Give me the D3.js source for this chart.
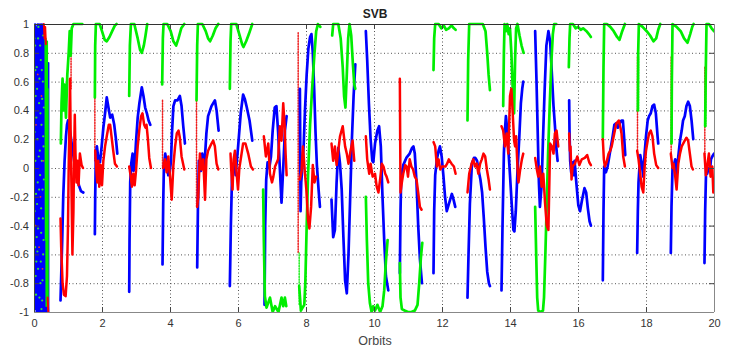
<!DOCTYPE html>
<html>
<head>
<meta charset="utf-8">
<script src="https://cdn.jsdelivr.net/npm/d3@7"></script>
<style>
  body { margin: 0; background: #fff; }
  svg { display: block; font-family: "Liberation Sans", Arial, sans-serif; }
</style>
</head>
<body>
<div id="chart"></div>
<script>
// tick values
const xTicks = [0, 2, 4, 6, 8, 10, 12, 14, 16, 18, 20];
const yTicks = [-1, -0.8, -0.6, -0.4, -0.2, 0, 0.2, 0.4, 0.6, 0.8, 1];

// start of the run: dense noise (orbit, value)
const blueNoise = [[0.0,1],[0.01,-1],[0.02,0.95],[0.03,-0.98],[0.04,1],[0.05,-0.9],[0.06,0.98],[0.07,-1],
  [0.08,0.9],[0.09,-0.95],[0.1,1],[0.11,-1],[0.12,0.97],[0.13,-0.92],[0.14,1],[0.15,-1],[0.16,0.94],
  [0.17,-0.97],[0.18,1],[0.19,-1],[0.2,0.96],[0.21,-0.94],[0.22,1],[0.23,-1],[0.24,0.92],[0.25,-0.98],
  [0.26,1],[0.27,-1],[0.28,0.95],[0.29,-0.96],[0.3,0.98],[0.31,-1],[0.32,0.9],[0.33,-0.97],[0.34,0.85],
  [0.35,-1],[0.36,0.8],[0.37,-1],[0.38,0.75],[0.4,-0.98],[0.41,0.72],[0.42,-1],[0.43,0.73],[0.43,-1]];
const greenNoise = [[0.33,0.93],[0.34,-0.5],[0.35,0.9],[0.36,-0.96],[0.37,0.7],[0.38,-0.6],[0.39,0.88],
  [0.4,-0.9],[0.41,0.55],[0.41,-0.98]];
const greenDots = [[0.03,0.85],[0.08,0.7],[0.12,0.9],[0.2,0.75],[0.26,0.6],[0.05,0.5],[0.15,0.45],[0.22,0.3],
  [0.1,0.2],[0.28,0.15],[0.04,0.05],[0.18,-0.05],[0.25,-0.15],[0.09,-0.25],[0.14,-0.35],[0.21,-0.45],
  [0.03,-0.55],[0.27,-0.6],[0.12,-0.7],[0.19,-0.8],[0.06,-0.88],[0.24,-0.92],[0.16,0.62],[0.07,0.35],
  [0.29,0.42],[0.11,-0.1],[0.23,0.05],[0.02,-0.3],[0.17,0.12],[0.26,-0.35],[0.08,-0.48],[0.2,-0.65],
  [0.13,0.98],[0.27,0.92],[0.05,-0.75],[0.22,-0.98],[0.09,0.55],[0.18,0.85],[0.24,0.48],[0.02,0.25],
  [0.14,0.08],[0.29,-0.08],[0.06,-0.18],[0.21,-0.28],[0.1,-0.58],[0.25,-0.78],[0.16,-0.9],[0.04,0.68],
  [0.19,0.38],[0.27,0.22],[0.12,-0.42],[0.07,-0.65],[0.23,0.68],[0.15,-0.15],[0.28,-0.5],[0.01,0.9]];
const redDots = [[0.06,0.3],[0.19,-0.2],[0.11,0.65],[0.25,-0.7],[0.15,-0.55],[0.04,-0.4],[0.22,0.5],[0.28,0.05]];
const redNoise = [[[0.29,1.0],[0.31,0.9],[0.33,0.98],[0.35,0.86]], [[0.4,-0.9],[0.42,-1.0]]];

// blue series, one array per pass
const blueSegs = [
  [[0.78,-0.92],[0.8,-0.75],[0.83,-0.5],[0.86,-0.2],[0.9,0.05],[0.94,0.22],[0.97,0.3],[1.0,0.33],[1.04,0.28],[1.08,0.22],[1.12,0.15],[1.18,0.05],[1.25,-0.05],[1.32,-0.12],[1.38,-0.16],[1.45,-0.17]],
  [[1.79,-0.46],[1.8,-0.2],[1.82,0.1],[1.85,0.15],[1.9,0.05],[1.94,0.04],[1.99,0.15],[2.04,0.28],[2.09,0.38],[2.14,0.49],[2.19,0.42],[2.24,0.35],[2.3,0.37],[2.36,0.3],[2.41,0.2],[2.45,0.1]],
  [[2.8,-0.86],[2.81,-0.5],[2.83,-0.1],[2.86,0.03],[2.9,0.1],[2.93,-0.02],[2.97,0.05],[3.0,0.18],[3.05,0.35],[3.1,0.45],[3.17,0.56],[3.22,0.5],[3.27,0.42],[3.32,0.38],[3.37,0.33],[3.42,0.3]],
  [[3.78,-0.67],[3.8,-0.25],[3.82,0.0],[3.86,0.1],[3.9,0.04],[3.95,-0.05],[3.99,-0.03],[4.03,0.05],[4.06,0.25],[4.1,0.43],[4.15,0.47],[4.22,0.47],[4.29,0.5],[4.34,0.43],[4.39,0.29],[4.44,0.17]],
  [[4.8,-0.69],[4.82,-0.3],[4.85,0.05],[4.91,-0.02],[4.95,0.1],[5.0,-0.01],[5.04,0.12],[5.07,0.24],[5.12,0.36],[5.22,0.43],[5.32,0.47],[5.37,0.4],[5.43,0.26]],
  [[5.76,-0.82],[5.79,-0.4],[5.83,0.0],[5.89,0.04],[5.93,-0.05],[6.0,0.14],[6.08,0.38],[6.15,0.51],[6.2,0.48],[6.25,0.43],[6.34,0.33],[6.42,0.19]],
  [[6.78,-0.95],[6.8,-0.4],[6.83,-0.08],[6.87,0.04],[6.92,0.0],[6.97,0.08],[7.02,0.26],[7.08,0.42],[7.13,0.43],[7.18,0.25],[7.23,0.0],[7.28,-0.24],[7.33,0.0],[7.38,0.26],[7.43,0.36]],
  [[7.82,0.55],[7.83,0.2],[7.84,-0.3],[7.86,-0.1],[7.89,0.0],[7.93,0.15],[7.97,0.4],[8.02,0.65],[8.07,0.83],[8.12,0.91],[8.16,0.93],[8.2,0.8],[8.24,0.55],[8.28,0.25],[8.32,0.02],[8.37,-0.15],[8.41,-0.27]],
  [[8.75,-0.22],[8.8,-0.48],[8.85,-0.43],[8.9,-0.1],[8.95,0.14],[9.0,0.03],[9.05,-0.15],[9.1,-0.48],[9.15,-0.78],[9.2,-0.87],[9.25,-0.6],[9.3,-0.2],[9.35,0.2],[9.4,0.5],[9.45,0.72]],
  [[9.76,0.95],[9.8,0.75],[9.85,0.45],[9.9,0.2],[9.95,0.05],[9.98,0.04],[10.03,0.17],[10.1,0.26],[10.15,0.29],[10.2,0.15],[10.25,-0.2],[10.3,-0.5],[10.35,-0.75],[10.42,-0.85]],
  [[10.76,-0.73],[10.78,-0.3],[10.8,-0.06],[10.86,0.02],[10.95,0.07],[11.05,0.1],[11.12,0.14],[11.16,0.15],[11.2,0.1],[11.25,-0.1],[11.3,-0.4],[11.35,-0.63],[11.41,-0.8]],
  [[11.75,-0.73],[11.77,-0.3],[11.8,-0.05],[11.85,0.06],[11.9,0.12],[11.94,0.15],[11.99,0.08],[12.04,-0.05],[12.09,-0.2],[12.14,-0.3],[12.19,-0.26],[12.24,-0.22],[12.29,-0.18],[12.34,-0.22],[12.39,-0.27]],
  [[12.75,-0.9],[12.78,-0.6],[12.82,-0.25],[12.88,0.03],[12.94,0.07],[12.98,0.07],[13.03,0.05],[13.08,-0.02],[13.13,-0.08],[13.18,-0.17],[13.23,-0.35],[13.28,-0.55],[13.33,-0.72],[13.38,-0.8],[13.41,-0.82]],
  [[13.75,-0.85],[13.78,-0.4],[13.82,0.1],[13.85,0.26],[13.88,0.36],[13.92,0.26],[13.96,0.1],[14.0,-0.05],[14.05,-0.25],[14.1,-0.43],[14.13,-0.44],[14.17,-0.3],[14.22,-0.02],[14.27,0.2],[14.32,0.45],[14.36,0.55],[14.39,0.6]],
  [[14.74,0.95],[14.78,0.6],[14.82,0.2],[14.85,-0.1],[14.88,-0.27],[14.93,-0.12],[14.97,0.2],[15.02,0.55],[15.07,0.85],[15.13,0.95],[15.18,0.88],[15.23,0.66],[15.28,0.43],[15.32,0.3],[15.37,0.12],[15.4,0.05]],
  [[15.74,0.47],[15.75,0.26],[15.77,0.05],[15.8,-0.03],[15.84,0.04],[15.87,-0.05],[15.9,0.05],[15.95,-0.1],[16.01,-0.26],[16.06,-0.3],[16.12,-0.22],[16.19,-0.14],[16.24,-0.17],[16.29,-0.28],[16.34,-0.37],[16.38,-0.4]],
  [[16.73,-0.78],[16.75,-0.3],[16.77,0.01],[16.82,-0.03],[16.87,0.01],[16.92,0.08],[16.97,0.15],[17.02,0.22],[17.07,0.3],[17.12,0.31],[17.17,0.28],[17.22,0.31],[17.28,0.33],[17.32,0.33],[17.36,0.2],[17.39,0.09]],
  [[17.74,-0.59],[17.76,-0.3],[17.78,-0.1],[17.83,0.09],[17.87,0.04],[17.92,-0.06],[17.96,0.1],[18.0,0.22],[18.05,0.33],[18.09,0.36],[18.14,0.38],[18.19,0.43],[18.24,0.44],[18.29,0.38],[18.34,0.22],[18.36,0.17]],
  [[18.73,-0.59],[18.75,-0.27],[18.78,0.0],[18.81,0.01],[18.86,0.06],[18.9,-0.04],[18.95,0.08],[19.0,0.19],[19.05,0.26],[19.09,0.33],[19.14,0.36],[19.19,0.43],[19.24,0.46],[19.29,0.43],[19.34,0.33],[19.39,0.2]],
  [[19.72,-0.66],[19.74,-0.3],[19.77,0.01],[19.8,-0.04],[19.84,0.0],[19.88,-0.02],[19.91,0.06],[19.95,0.08],[20.0,0.1]]
];

// green series
const greenSegs = [
  [[0.79,0.17],[0.81,0.45],[0.84,0.62],[0.87,0.4],[0.9,0.58],[0.94,0.35],[0.98,0.65],[1.02,0.8],[1.05,0.95],[1.08,0.78],[1.11,0.97],[1.16,1.0],[1.3,1.0],[1.42,1.0]],
  [[1.79,0.49],[1.8,0.85],[1.82,1.0],[1.93,1.0],[2.0,0.95],[2.08,0.89],[2.14,0.88],[2.22,0.91],[2.3,0.95],[2.38,0.99],[2.43,1.0]],
  [[2.8,0.5],[2.82,0.85],[2.85,1.0],[2.95,1.0],[3.05,0.9],[3.12,0.82],[3.17,0.8],[3.23,0.85],[3.28,0.92],[3.33,1.0]],
  [[3.77,0.58],[3.79,0.9],[3.81,1.0],[3.92,1.0],[4.02,0.95],[4.1,0.88],[4.18,0.85],[4.25,0.9],[4.33,0.97],[4.42,1.0]],
  [[4.78,0.47],[4.8,0.85],[4.82,1.0],[4.95,1.0],[5.05,0.95],[5.12,0.9],[5.18,0.88],[5.26,0.92],[5.34,0.97],[5.42,1.0]],
  [[5.76,0.55],[5.78,0.88],[5.8,1.0],[5.95,1.0],[6.05,0.92],[6.12,0.86],[6.16,0.84],[6.24,0.88],[6.32,0.93],[6.42,1.0]],
  [[6.74,-0.15],[6.76,-0.5],[6.79,-0.89],[6.84,-0.97],[6.94,-0.9],[7.02,-1.0],[7.09,-0.96],[7.19,-1.0],[7.28,-0.9],[7.33,-0.96],[7.38,-0.9],[7.42,-0.96]],
  [[7.8,-0.82],[7.85,-0.99],[7.9,-0.97],[7.95,-0.95],[7.98,-0.8],[8.02,-0.4],[8.06,-0.05],[8.12,0.3],[8.18,0.55],[8.25,0.8],[8.3,0.95],[8.35,1.0],[8.42,0.98]],
  [[8.77,0.92],[8.8,1.0],[8.95,1.0],[9.02,0.9],[9.08,0.7],[9.12,0.5],[9.16,0.42],[9.2,0.65],[9.24,0.9],[9.28,1.0],[9.33,0.92],[9.38,0.72],[9.42,0.58],[9.45,0.55]],
  [[9.76,-0.2],[9.79,-0.5],[9.83,-0.8],[9.88,-0.94],[9.93,-1.0],[9.98,-0.96],[10.03,-0.99],[10.1,-0.95],[10.18,-1.0],[10.25,-0.96],[10.3,-0.85],[10.35,-0.65],[10.4,-0.5]],
  [[10.76,-0.66],[10.78,-0.9],[10.82,-0.98],[10.9,-0.99],[11.0,-1.0],[11.1,-1.0],[11.2,-0.99],[11.28,-0.95],[11.33,-0.8],[11.38,-0.62],[11.42,-0.52]],
  [[11.75,0.68],[11.77,0.9],[11.8,1.0],[11.9,1.0],[11.98,0.97],[12.05,0.99],[12.12,0.96],[12.2,0.97],[12.28,0.99],[12.35,0.97],[12.4,0.96]],
  [[12.75,0.33],[12.77,0.75],[12.8,1.0],[12.9,1.0],[13.05,1.0],[13.2,1.0],[13.28,0.95],[13.33,0.8],[13.37,0.65],[13.41,0.54]],
  [[13.8,0.43],[13.82,0.8],[13.84,1.0],[13.88,0.95],[13.92,1.0],[13.96,0.93],[14.0,0.97],[14.04,0.8],[14.08,0.55],[14.12,0.38],[14.15,0.75],[14.18,0.97],[14.22,1.0],[14.28,0.92],[14.34,0.85],[14.4,0.8]],
  [[14.74,-0.27],[14.77,-0.6],[14.8,-0.9],[14.83,-0.99],[14.9,-1.0],[14.97,-0.99],[15.0,-0.9],[15.04,-0.6],[15.08,-0.25],[15.12,0.1],[15.17,0.45],[15.22,0.75],[15.26,0.93],[15.3,1.0],[15.36,1.0]],
  [[15.73,0.7],[15.75,0.9],[15.77,1.0],[15.85,1.0],[15.93,0.97],[16.0,0.98],[16.08,0.96],[16.15,0.97],[16.25,0.95],[16.32,0.93],[16.38,0.91]],
  [[16.73,0.21],[16.75,0.7],[16.77,1.0],[16.85,1.0],[16.95,0.98],[17.05,0.95],[17.15,0.91],[17.22,0.89],[17.3,0.95],[17.38,1.0]],
  [[17.76,0.4],[17.77,0.8],[17.79,1.0],[17.9,0.98],[18.02,0.95],[18.12,0.92],[18.22,0.88],[18.3,0.9],[18.36,0.96],[18.42,1.0]],
  [[18.75,0.17],[18.76,0.6],[18.78,1.0],[18.9,0.98],[19.02,0.95],[19.12,0.9],[19.22,0.87],[19.3,0.93],[19.36,0.98],[19.4,1.0]],
  [[19.74,0.29],[19.76,0.7],[19.78,1.0],[19.85,1.0],[19.93,0.97],[20.0,0.95]]
];

// red series
const redSegs = [
  [[0.78,-0.35],[0.8,-0.55],[0.84,-0.8],[0.88,-0.88],[0.93,-0.89],[0.97,-0.75],[1.0,-0.4],[1.02,0.0],[1.04,0.3],[1.06,0.62],[1.08,0.2],[1.1,-0.1],[1.13,-0.6],[1.16,-0.3],[1.18,0.1],[1.2,0.37],[1.22,0.1],[1.25,-0.1],[1.28,0.05],[1.31,-0.12],[1.35,0.1],[1.4,0.02],[1.44,0.0]],
  [[1.8,0.12],[1.83,0.0],[1.86,-0.1],[1.89,0.05],[1.92,-0.13],[1.96,0.02],[2.0,-0.12],[2.04,0.05],[2.09,0.15],[2.14,0.22],[2.2,0.3],[2.24,0.3],[2.28,0.22],[2.33,0.12],[2.38,0.03],[2.44,0.01]],
  [[2.8,0.01],[2.84,-0.05],[2.88,-0.13],[2.92,-0.04],[2.96,-0.12],[3.0,-0.02],[3.05,0.15],[3.1,0.27],[3.15,0.36],[3.19,0.38],[3.24,0.3],[3.28,0.28],[3.31,0.3],[3.35,0.2],[3.39,0.07],[3.44,0.0]],
  [[3.8,0.0],[3.85,0.06],[3.9,-0.03],[3.95,0.08],[4.0,-0.06],[4.05,-0.22],[4.1,0.02],[4.15,0.15],[4.2,0.24],[4.25,0.26],[4.29,0.21],[4.34,0.08],[4.42,-0.01]],
  [[4.8,-0.27],[4.83,-0.2],[4.88,0.1],[4.93,-0.01],[4.98,0.06],[5.03,-0.22],[5.07,0.06],[5.12,0.12],[5.22,0.17],[5.27,0.19],[5.32,0.15],[5.37,0.03],[5.42,-0.01]],
  [[5.78,0.1],[5.8,-0.01],[5.84,-0.15],[5.87,0.06],[5.91,0.12],[5.96,-0.04],[6.0,-0.15],[6.04,0.0],[6.08,0.06],[6.15,0.17],[6.22,0.17],[6.3,0.1],[6.38,0.01],[6.44,-0.01]],
  [[6.76,0.22],[6.82,0.08],[6.89,0.17],[6.94,-0.04],[7.0,-0.1],[7.04,-0.06],[7.09,0.01],[7.18,0.06],[7.23,0.29],[7.28,0.19],[7.33,0.45],[7.37,0.3],[7.4,0.1],[7.43,-0.05]],
  [[7.82,-0.08],[7.87,-0.02],[7.91,0.15],[7.97,-0.04],[8.01,-0.15],[8.06,-0.36],[8.1,-0.42],[8.15,-0.27],[8.2,0.02],[8.25,-0.1],[8.3,-0.06]],
  [[8.75,0.17],[8.8,0.05],[8.85,0.15],[8.9,0.02],[8.95,0.12],[9.0,0.22],[9.08,0.29],[9.15,0.15],[9.2,0.1],[9.25,0.03],[9.31,0.12],[9.37,0.19],[9.42,0.05]],
  [[9.76,0.22],[9.8,0.06],[9.86,-0.04],[9.9,0.03],[9.96,-0.06],[10.03,-0.04],[10.08,-0.13],[10.13,-0.17],[10.18,-0.08],[10.23,0.03],[10.28,0.01],[10.33,-0.04],[10.37,-0.06],[10.42,-0.1]],
  [[10.76,0.62],[10.77,0.2],[10.78,-0.17],[10.82,-0.1],[10.86,-0.04],[10.92,0.02],[10.96,0.01],[11.0,-0.06],[11.05,0.06],[11.1,0.01],[11.15,-0.01],[11.2,-0.06],[11.25,-0.08],[11.3,-0.17],[11.35,-0.27],[11.4,-0.29]],
  [[11.75,0.18],[11.8,0.15],[11.85,0.01],[11.9,0.06],[11.95,-0.01],[12.0,0.01],[12.1,0.01],[12.15,0.03],[12.2,0.06],[12.28,0.03],[12.35,0.01],[12.4,-0.04]],
  [[12.75,-0.17],[12.8,-0.04],[12.87,0.03],[12.92,0.06],[12.97,0.01],[13.02,0.03],[13.07,-0.04],[13.12,0.03],[13.17,0.06],[13.22,0.1],[13.27,0.08],[13.32,-0.01],[13.37,-0.08],[13.41,-0.15]],
  [[13.75,0.29],[13.8,0.26],[13.85,0.15],[13.9,0.24],[13.95,0.1],[14.0,0.5],[14.04,0.55],[14.08,0.38],[14.12,0.19],[14.15,0.15],[14.18,0.22],[14.22,0.0],[14.25,-0.1],[14.3,-0.01],[14.35,0.06],[14.39,0.1]],
  [[14.74,0.07],[14.79,-0.01],[14.83,-0.06],[14.88,0.01],[14.93,-0.13],[14.98,-0.04],[15.03,-0.24],[15.08,-0.4],[15.13,-0.43],[15.18,0.17],[15.23,0.15],[15.28,0.1],[15.32,0.24],[15.37,0.26],[15.42,0.15]],
  [[15.74,0.24],[15.76,0.12],[15.78,0.15],[15.81,-0.08],[15.84,0.01],[15.91,0.03],[15.98,0.08],[16.04,0.02],[16.11,0.06],[16.2,0.07],[16.27,0.09],[16.33,0.04],[16.38,0.02]],
  [[16.73,0.2],[16.76,0.06],[16.79,0.01],[16.84,0.04],[16.9,0.1],[16.95,0.12],[16.99,0.15],[17.05,0.22],[17.1,0.28],[17.13,0.31],[17.2,0.33],[17.25,0.28],[17.28,0.24],[17.33,0.08],[17.38,0.01]],
  [[17.74,0.12],[17.78,0.06],[17.83,-0.04],[17.87,-0.13],[17.92,-0.17],[17.96,0.01],[18.0,0.12],[18.05,0.19],[18.09,0.24],[18.14,0.26],[18.19,0.22],[18.24,0.1],[18.3,0.02],[18.36,0.0]],
  [[18.73,0.1],[18.78,0.0],[18.81,0.03],[18.86,-0.06],[18.9,-0.15],[18.95,0.03],[19.0,0.1],[19.05,0.15],[19.14,0.19],[19.19,0.21],[19.24,0.19],[19.29,0.1],[19.34,0.01],[19.38,-0.01]],
  [[19.72,0.1],[19.76,-0.05],[19.8,0.01],[19.85,0.1],[19.9,-0.06],[19.95,0.01],[19.98,-0.17],[20.0,-0.1]]
];

// sparse jumps between passes: [orbit, from, to]
const redJumps = [[1.09,0.95,0.55],[1.79,0.73,0.05],[3.78,0.47,0.0],[4.78,0.47,-0.27],[7.77,0.94,-0.59],
  [16.73,0.56,0.2],[17.75,0.77,0.12],[18.74,0.77,0.1],[19.73,0.7,0.1]];
const greenJumps = [[7.77,-0.59,-0.95],[17.75,0.77,0.4],[18.74,0.8,0.17],[19.73,0.7,0.29]];

const width = 736, height = 351;
const x = d3.scaleLinear().domain([0, 20]).range([34, 714]);
const y = d3.scaleLinear().domain([-1, 1]).range([312, 24]);

const svg = d3.select("#chart").append("svg")
  .attr("width", width).attr("height", height);

svg.append("rect").attr("width", width).attr("height", height).attr("fill", "#fff");

svg.append("defs").append("clipPath").attr("id", "plot")
  .append("rect").attr("x", x(0)).attr("y", y(1) - 2)
  .attr("width", x(20) - x(0)).attr("height", y(-1) - y(1) + 2);

// dotted grid
const grid = svg.append("g").attr("stroke", "#555").attr("stroke-width", 1)
  .attr("stroke-dasharray", "1,2.5");
grid.selectAll(".gx").data(xTicks.slice(1, -1)).enter().append("line")
  .attr("x1", d => x(d) + 0.5).attr("x2", d => x(d) + 0.5)
  .attr("y1", y(1)).attr("y2", y(-1));
grid.selectAll(".gy").data(yTicks.slice(1, -1)).enter().append("line")
  .attr("x1", x(0)).attr("x2", x(20))
  .attr("y1", d => y(d) + 0.5).attr("y2", d => y(d) + 0.5);

const line = d3.line().x(d => x(d[0])).y(d => y(d[1]));
const plot = svg.append("g").attr("clip-path", "url(#plot)")
  .attr("fill", "none").attr("stroke-linejoin", "round").attr("stroke-linecap", "round");

// noise band at the start
plot.append("path").datum(blueNoise).attr("d", line)
  .attr("stroke", "#0000ff").attr("stroke-width", 1.6);
plot.selectAll(".gdot").data(greenDots).enter().append("circle")
  .attr("cx", d => x(d[0])).attr("cy", d => y(d[1])).attr("r", 1.1).attr("fill", "#33dd33");
plot.selectAll(".rdot").data(redDots).enter().append("circle")
  .attr("cx", d => x(d[0])).attr("cy", d => y(d[1])).attr("r", 0.9).attr("fill", "#ee3333");
plot.append("path").datum(greenNoise).attr("d", line)
  .attr("stroke", "#00ee00").attr("stroke-width", 1.6);
plot.selectAll(".rn").data(redNoise).enter().append("path").attr("d", line)
  .attr("stroke", "#ff0000").attr("stroke-width", 2);

// dotted jumps
plot.selectAll(".rj").data(redJumps).enter().append("line")
  .attr("x1", d => x(d[0])).attr("x2", d => x(d[0]))
  .attr("y1", d => y(d[1])).attr("y2", d => y(d[2]))
  .attr("stroke", "#ee2020").attr("stroke-width", 1.5).attr("stroke-dasharray", "1.2,1.5");
plot.selectAll(".gj").data(greenJumps).enter().append("line")
  .attr("x1", d => x(d[0]) + 1).attr("x2", d => x(d[0]) + 1)
  .attr("y1", d => y(d[1])).attr("y2", d => y(d[2]))
  .attr("stroke", "#22ee22").attr("stroke-width", 1.5).attr("stroke-dasharray", "1.2,1.5")
  .attr("stroke-dashoffset", 1);

// series
plot.selectAll(".blue").data(blueSegs).enter().append("path").attr("d", line)
  .attr("stroke", "#0000ff").attr("stroke-width", 2.7);
plot.selectAll(".green").data(greenSegs).enter().append("path").attr("d", line)
  .attr("stroke", "#00ee00").attr("stroke-width", 2.7);
plot.selectAll(".red").data(redSegs).enter().append("path").attr("d", line)
  .attr("stroke", "#ff0000").attr("stroke-width", 2.5);

// axes with inward ticks
const xAxis = svg.append("g").attr("transform", `translate(0,${y(-1)})`)
  .call(d3.axisBottom(x).tickValues(xTicks).tickSizeInner(-5).tickSizeOuter(0).tickPadding(7)
    .tickFormat(d => String(d)));
const yAxis = svg.append("g").attr("transform", `translate(${x(0)},0)`)
  .call(d3.axisLeft(y).tickValues(yTicks).tickSizeInner(-5).tickSizeOuter(0).tickPadding(5)
    .tickFormat(d => String(+d.toFixed(1))));
const xTop = svg.append("g").attr("transform", `translate(0,${y(1)})`)
  .call(d3.axisTop(x).tickValues(xTicks).tickSizeInner(-5).tickSizeOuter(0).tickFormat(""));
const yRight = svg.append("g").attr("transform", `translate(${x(20)},0)`)
  .call(d3.axisRight(y).tickValues(yTicks).tickSizeInner(-5).tickSizeOuter(0).tickFormat(""));

[xAxis, yAxis, xTop, yRight].forEach(g => {
  g.select(".domain").remove();
  g.selectAll(".tick line").attr("stroke", "#444");
  g.selectAll("text").attr("fill", "#333").style("font-size", "11px")
    .style("font-family", '"Liberation Sans", Arial, sans-serif');
});

// box
svg.append("line").attr("x1", x(0)).attr("x2", x(20)).attr("y1", y(1) + 0.5).attr("y2", y(1) + 0.5)
  .attr("stroke", "#333");
svg.append("line").attr("x1", x(0)).attr("x2", x(20)).attr("y1", y(-1) + 0.5).attr("y2", y(-1) + 0.5)
  .attr("stroke", "#888");
svg.append("line").attr("x1", x(0) + 0.5).attr("x2", x(0) + 0.5).attr("y1", y(1)).attr("y2", y(-1))
  .attr("stroke", "#444");
svg.append("line").attr("x1", x(20) + 0.5).attr("x2", x(20) + 0.5).attr("y1", y(1)).attr("y2", y(-1))
  .attr("stroke", "#888");

// labels
svg.append("text").attr("x", (x(0) + x(20)) / 2 + 1).attr("y", 18)
  .attr("text-anchor", "middle").style("font-size", "12px").style("font-weight", "bold")
  .attr("fill", "#222").text("SVB");
svg.append("text").attr("x", (x(0) + x(20)) / 2 + 1).attr("y", 345)
  .attr("text-anchor", "middle").style("font-size", "12.5px")
  .attr("fill", "#444").text("Orbits");
</script>
</body>
</html>
